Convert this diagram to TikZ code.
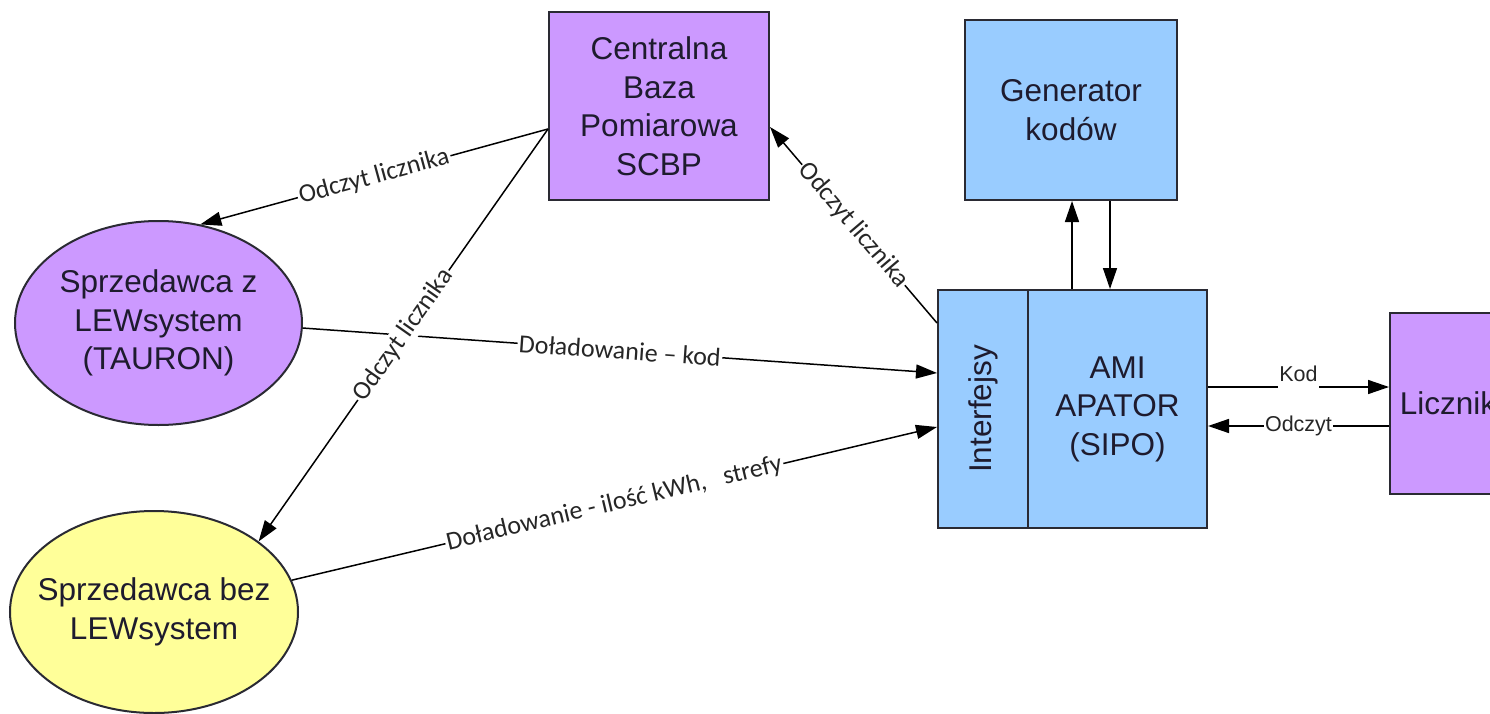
\documentclass[tikz,border=0pt]{standalone}
\usepackage{fontspec}
\usepackage{graphicx}
\setmainfont{Liberation Sans}
\newfontfamily\labelfont{Carlito}
\usetikzlibrary{arrows.meta,shapes.geometric,calc}
\definecolor{lila}{HTML}{CC99FF}
\definecolor{sky}{HTML}{99CCFF}
\definecolor{lemon}{HTML}{FFFF99}
\definecolor{edge}{HTML}{2A2A33}
\definecolor{ink}{HTML}{1E1B2E}

\begin{document}
\begin{tikzpicture}[x=1pt,y=-1pt,
  box/.style={draw=edge, line width=2pt, inner sep=0pt, align=center, text=ink,
              font=\fontsize{31.5}{38.5}\selectfont},
  oval/.style={box, ellipse, inner xsep=-20pt},
  conn/.style={line width=1.5pt, draw=black},
  arr/.style={conn, -{Triangle[length=21pt,width=14pt]}},
  lab/.style={font=\labelfont\fontsize{26}{30}\selectfont, fill=white,
              inner sep=1.5pt, sloped, midway, text=black!85},
  small/.style={font=\fontsize{21.5}{25}\selectfont, fill=white,
                inner xsep=1.5pt, inner ysep=1.5pt, midway, text=black!85}]

\useasboundingbox (0,0) rectangle (1490,714);
\clip (0,0) rectangle (1490,714);
\fill[white] (0,0) rectangle (1490,714);

% blocks
\node[box, fill=lila, minimum width=220pt, minimum height=188pt] (cb) at (659,106)
  {Centralna\\Baza\\Pomiarowa\\SCBP};
\node[box, fill=sky, minimum width=212pt, minimum height=180pt] (gen) at (1071,110)
  {Generator\\kodów};
\node[box, fill=sky, minimum width=90pt, minimum height=238pt] (iface) at (983,409)
  {\rotatebox{90}{Interfejsy}};
\node[box, fill=sky, minimum width=179pt, minimum height=238pt] (ami) at (1117.5,409)
  {AMI\\APATOR\\(SIPO)};
\node[box, fill=lila, minimum width=116pt, minimum height=181pt] (lic) at (1448,403.5)
  {Licznik};

% sellers
\node[oval, fill=lila, minimum width=287pt, minimum height=204pt] (s1) at (158.5,323)
  {Sprzedawca z\\LEWsystem\\(TAURON)};
\node[oval, fill=lemon, minimum width=288pt, minimum height=202pt] (s2) at (154,612)
  {Sprzedawca bez\\LEWsystem};

% top-ups towards the interfaces
\draw[arr] (s1.-2) -- node[lab]{Doładowanie – kod} ([yshift=36pt]iface.west);
\draw[arr] (s2.13) -- node[lab]{Doładowanie - ilość kWh,\ \ \ strefy} ([yshift=-18pt]iface.west);

% meter readings from the central base
\coordinate (cbL) at ([yshift=-23pt]cb.west);
\draw[arr] (cbL) -- node[lab]{Odczyt licznika} (s1.67);
\draw[arr] (cbL) -- node[lab]{Odczyt licznika} (s2.34);
\draw[arr] ([yshift=86pt]iface.west) -- node[lab]{Odczyt licznika} ([yshift=-21pt]cb.east);

% code generator link
\coordinate (gup) at (1072,0);
\coordinate (gdn) at (1110,0);
\draw[arr] (ami.north -| gup) -- (gen.south -| gup);
\draw[arr] (gen.south -| gdn) -- (ami.north -| gdn);

% meter link
\coordinate (kodA) at ([yshift=22pt]ami.east);
\coordinate (odA) at ([yshift=-17pt]ami.east);
\draw[arr] (kodA) -- node[small, inner ysep=7pt, yshift=13.5pt]{Kod} (kodA -| lic.west);
\draw[arr] (odA -| lic.west) -- node[small]{Odczyt} (odA);
\end{tikzpicture}
\end{document}
